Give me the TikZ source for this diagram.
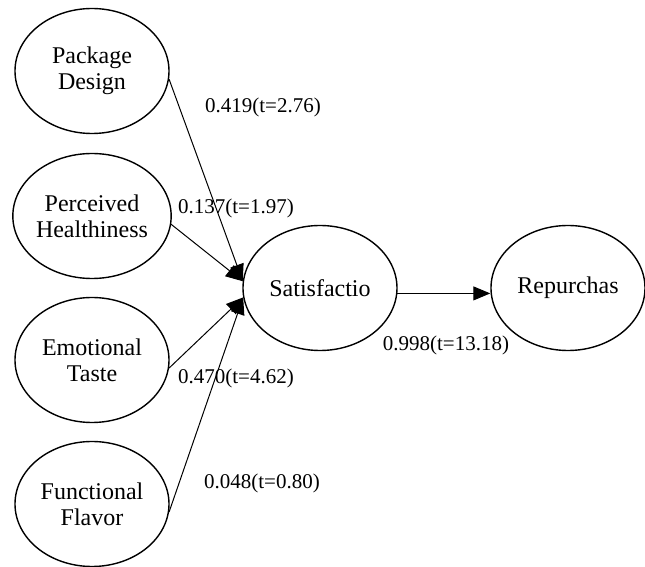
\documentclass[tikz,border=0pt]{standalone}
\usepackage{fontspec}
\setmainfont{Liberation Serif}
\usetikzlibrary{shapes.geometric,arrows.meta}
\tikzset{
  construct/.style={draw, ellipse, line width=0.7pt, minimum width=77pt,
    minimum height=62.5pt, inner sep=0pt, align=center,
    font=\fontsize{12}{13}\selectfont},
  pathline/.style={-{Triangle[length=8.5pt,width=7pt]}, line width=0.5pt},
  coef/.style={inner sep=0pt, font=\fontsize{10.5}{12}\selectfont}
}
\begin{document}
\begin{tikzpicture}[x=0.5pt, y=-0.5pt]
    \useasboundingbox (0,0) rectangle (645,567);

    % Exogenous constructs
    \node[construct] (pd) at (92,71) {Package\\Design};
    \node[construct] (ph) at (92,216) {Perceived\\Healthiness};
    \node[construct] (et) at (92,360) {Emotional\\Taste};
    \node[construct] (ff) at (92,504) {Functional\\Flavor};

    % Endogenous constructs
    \node[construct] (sat) at (320,288) {Satisfactio};
    \node[construct] (rep) at (568,288) {Repurchas};

    % Paths
    \draw[pathline] (pd.-6) -- (sat.175);
    \draw[pathline] (ph.-6) -- (sat.175);
    \draw[pathline] (et.-6) -- (sat.187);
    \draw[pathline] (ff.-6) -- (sat.187);
    \draw[pathline] (sat.-4) -- (sat.-4 -| rep.west);

    % Path coefficients
    \node[coef] (c1) at (263,107) {0.419(t=2.76)};
    \node[coef] (c2) at (236,208) {0.137(t=1.97)};
    \node[coef] (c3) at (236,378) {0.470(t=4.62)};
    \node[coef] (c4) at (262,483) {0.048(t=0.80)};
    \node[coef] (c5) at (446,345) {0.998(t=13.18)};
\end{tikzpicture}
\end{document}
